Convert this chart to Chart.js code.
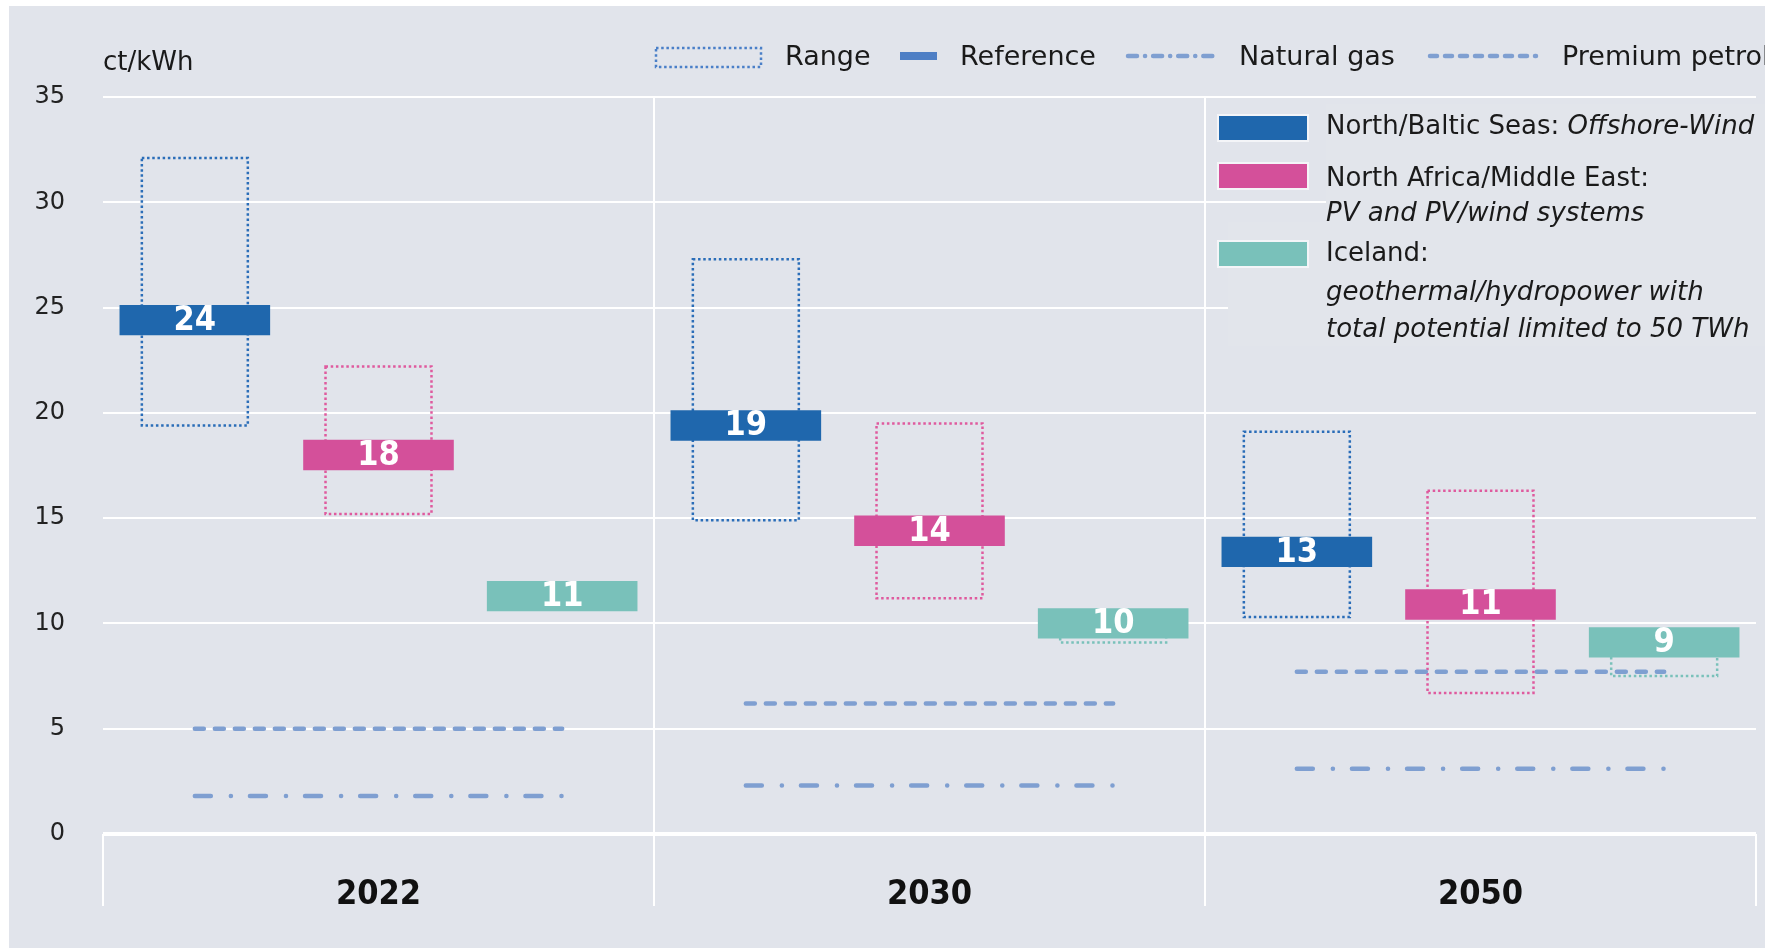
<!DOCTYPE html>
<html>
<head>
<meta charset="utf-8">
<script src="https://cdn.jsdelivr.net/npm/chart.js@4.4.1/dist/chart.umd.min.js"></script>
<style>
  html, body { margin: 0; padding: 0; background: #fff; }
  #wrap { width: 1765px; height: 948px; }
</style>
</head>
<body>
<div id="wrap"><canvas id="costChart" width="1765" height="948"></canvas></div>
<script>
// data
const years = ['2022', '2030', '2050'];
const regions = ['North/Baltic Seas', 'North Africa/Middle East', 'Iceland'];

// reference import costs, ct/kWh
const windRef = [24.4, 19.4, 13.4];
const menaRef = [18.0, 14.4, 10.9];
const iceRef = [11.3, 10.0, 9.1];

// ranges (low / high)
const windLow = [19.4, 14.9, 10.3];
const windHigh = [32.1, 27.3, 19.1];
const menaLow = [15.2, 11.2, 6.7];
const menaHigh = [22.2, 19.5, 16.3];
const iceLow = [null, 9.1, 7.5];
const iceHigh = [null, 10.3, 9.0];

// fossil comparison
const naturalGas = [1.8, 2.3, 3.1];
const premiumPetrol = [5.0, 6.2, 7.7];

const yTicks = [0, 5, 10, 15, 20, 25, 30, 35];

// styles
const FONT = '"DejaVu Sans", sans-serif';
const FONT_NARROW = '"DejaVu Sans Condensed", "DejaVu Sans", sans-serif';
const BG = '#e1e4eb';
const LINE_COLOR = '#7f9fd1';
const barColors = ['#1f67ad', '#d4509a', '#79c1ba'];
const rangeColors = ['#2a6db8', '#df5a9e', '#79c1ba'];
const BAR_HALF = 0.72; // half height of the reference bar, in ct/kWh
const TXT = 27;
const TXT_RIGHT = 26;

// build the 9 slots (3 regions per year)
const slots = [], refValues = [], refData = [], rangeData = [], gasData = [], petrolData = [];
const slotColors = [], slotRangeColors = [];
const series = [[windRef, windLow, windHigh], [menaRef, menaLow, menaHigh], [iceRef, iceLow, iceHigh]];
years.forEach((yr, i) => {
    series.forEach(([ref, lo, hi], r) => {
        slots.push(yr + ' ' + regions[r]);
        refValues.push(ref[i]);
        refData.push([ref[i] - BAR_HALF, ref[i] + BAR_HALF]);
        rangeData.push(lo[i] == null ? null : [lo[i], hi[i]]);
        gasData.push(naturalGas[i]);
        petrolData.push(premiumPetrol[i]);
        slotColors.push(barColors[r]);
        slotRangeColors.push(rangeColors[r]);
    });
});

// hide the connection between two years
const gapColor = ctx => (ctx.p0DataIndex % 3 === 2) ? 'rgba(0,0,0,0)' : LINE_COLOR;

function dottedRect(ctx, x0, y0, x1, y1, color) {
    ctx.save();
    ctx.strokeStyle = color;
    ctx.lineWidth = 2.5;
    ctx.setLineDash([2.5, 2.7]);
    ctx.strokeRect(x0, y0, x1 - x0, y1 - y0);
    ctx.restore();
}

function drawParts(ctx, x, y, parts, size) {
    let cx = x;
    parts.forEach(([t, italic]) => {
        ctx.font = (italic ? 'italic ' : '') + size + 'px ' + FONT;
        ctx.fillText(t, cx, y);
        cx += ctx.measureText(t).width;
    });
}

const decorPlugin = {
    id: 'decor',
    beforeDraw(chart) {
        const ctx = chart.ctx;
        ctx.save();
        ctx.fillStyle = '#fff';
        ctx.fillRect(0, 0, chart.width, chart.height);
        ctx.fillStyle = BG;
        ctx.fillRect(9, 6, chart.width - 9, chart.height - 6);
        ctx.restore();
    },
    afterDatasetDraw(chart, args) {
        const ctx = chart.ctx;
        const ds = chart.data.datasets[args.index];
        if (ds.id === 'range') {
            args.meta.data.forEach((el, i) => {
                if (rangeData[i] == null) return;
                const p = el.getProps(['x', 'y', 'base', 'width'], true);
                dottedRect(ctx, p.x - p.width / 2, p.y, p.x + p.width / 2, p.base, slotRangeColors[i]);
            });
        }
        if (ds.id === 'ref') {
            ctx.save();
            ctx.fillStyle = '#fff';
            ctx.font = 'bold 34px ' + FONT_NARROW;
            ctx.textAlign = 'center';
            ctx.textBaseline = 'middle';
            args.meta.data.forEach((el, i) => {
                const p = el.getProps(['x', 'y', 'base'], true);
                ctx.fillText(Math.round(refValues[i]), p.x, (p.y + p.base) / 2 + 1);
            });
            ctx.restore();
        }
    },
    afterDraw(chart) {
        const ctx = chart.ctx;
        ctx.save();
        ctx.fillStyle = '#1a1a1a';
        ctx.textBaseline = 'middle';
        ctx.textAlign = 'left';

        // unit
        ctx.font = '26px ' + FONT;
        ctx.fillText('ct/kWh', 103, 63);

        // top legend
        const ty = 58;
        ctx.font = TXT + 'px ' + FONT;
        dottedRect(ctx, 656, 48, 761, 67, '#4a7fc8');
        ctx.fillText('Range', 785, ty);
        ctx.fillStyle = '#4e7fc5';
        ctx.fillRect(900, 52, 37, 8);
        ctx.strokeStyle = LINE_COLOR;
        ctx.lineWidth = 4.5;
        ctx.lineCap = 'round';
        ctx.setLineDash([9, 8, 0.1, 8]);
        ctx.beginPath(); ctx.moveTo(1128, ty - 2); ctx.lineTo(1218, ty - 2); ctx.stroke();
        ctx.setLineDash([7, 8]);
        ctx.beginPath(); ctx.moveTo(1430, ty - 2); ctx.lineTo(1536, ty - 2); ctx.stroke();
        ctx.setLineDash([]);
        ctx.fillStyle = '#1a1a1a';
        ctx.fillText('Reference', 960, ty);
        ctx.fillText('Natural gas', 1239, ty);
        ctx.fillText('Premium petrol', 1562, ty);

        // right legend (masks the grid behind the text)
        ctx.fillStyle = '#e2e5eb';
        ctx.fillRect(1326, 104, 439, 118);
        ctx.fillRect(1228, 222, 537, 124);
        const sw = [[116, barColors[0]], [164, barColors[1]], [242, barColors[2]]];
        sw.forEach(([y, c]) => {
            ctx.fillStyle = '#f4f5f8';
            ctx.fillRect(1217, y - 2, 92, 28);
            ctx.fillStyle = c;
            ctx.fillRect(1219, y, 88, 24);
        });
        ctx.fillStyle = '#1a1a1a';
        const lx = 1326;
        drawParts(ctx, lx, 127, [['North/Baltic Seas: ', false], ['Offshore-Wind', true]], TXT_RIGHT);
        drawParts(ctx, lx, 179, [['North Africa/Middle East:', false]], TXT_RIGHT);
        drawParts(ctx, lx, 214, [['PV and PV/wind systems', true]], TXT_RIGHT);
        drawParts(ctx, lx, 254, [['Iceland:', false]], TXT_RIGHT);
        drawParts(ctx, lx, 293, [['geothermal/hydropower with', true]], TXT_RIGHT);
        drawParts(ctx, lx, 330, [['total potential limited to 50 TWh', true]], TXT_RIGHT);
        ctx.restore();
    }
};

const ctx = document.getElementById('costChart').getContext('2d');
new Chart(ctx, {
    type: 'bar',
    data: {
        labels: slots,
        datasets: [
            {
                type: 'line', id: 'gas', label: 'Natural gas', data: gasData,
                borderColor: LINE_COLOR, borderWidth: 4.5, borderCapStyle: 'round',
                borderDash: [16, 20, 0.1, 19], pointRadius: 0, order: 0,
                segment: { borderColor: gapColor }
            },
            {
                type: 'line', id: 'petrol', label: 'Premium petrol', data: petrolData,
                borderColor: LINE_COLOR, borderWidth: 4.5, borderCapStyle: 'round',
                borderDash: [9, 11], pointRadius: 0, order: 0,
                segment: { borderColor: gapColor }
            },
            {
                id: 'ref', label: 'Reference', data: refData,
                backgroundColor: slotColors, borderWidth: 0,
                grouped: false, barPercentage: 0.82, categoryPercentage: 1, order: 1
            },
            {
                id: 'range', label: 'Range', data: rangeData,
                backgroundColor: 'rgba(0,0,0,0)', borderWidth: 0,
                grouped: false, barPercentage: 0.577, categoryPercentage: 1, order: 2
            }
        ]
    },
    options: {
        responsive: false,
        animation: false,
        devicePixelRatio: 1,
        layout: { padding: { top: 97, right: 9, bottom: 42, left: 0 } },
        plugins: { legend: { display: false }, tooltip: { enabled: false } },
        scales: {
            x: { display: false, offset: true },
            year: {
                type: 'category', axis: 'x', position: 'bottom', labels: years, offset: true,
                grid: {
                    offset: true,
                    // outer edges only show below the zero line
                    color: c => (c.type !== 'tick' || c.index === 0) ? 'rgba(0,0,0,0)' : '#fff',
                    tickColor: '#fff', lineWidth: 2, tickLength: 72
                },
                border: { display: false },
                ticks: { font: { family: FONT_NARROW, size: 34, weight: 'bold' }, color: '#111', padding: -31 },
                afterFit: s => { s.height = 72; }
            },
            y: {
                min: 0, max: 35,
                afterBuildTicks: s => { s.ticks = yTicks.map(v => ({ value: v })); },
                grid: { color: '#fff', lineWidth: c => (c.tick && c.tick.value === 0) ? 4 : 2, drawTicks: false },
                border: { display: false },
                ticks: { font: { family: FONT, size: 24 }, color: '#222', padding: 38 },
                afterFit: s => { s.width = 103; }
            }
        }
    },
    plugins: [decorPlugin]
});
</script>
</body>
</html>
